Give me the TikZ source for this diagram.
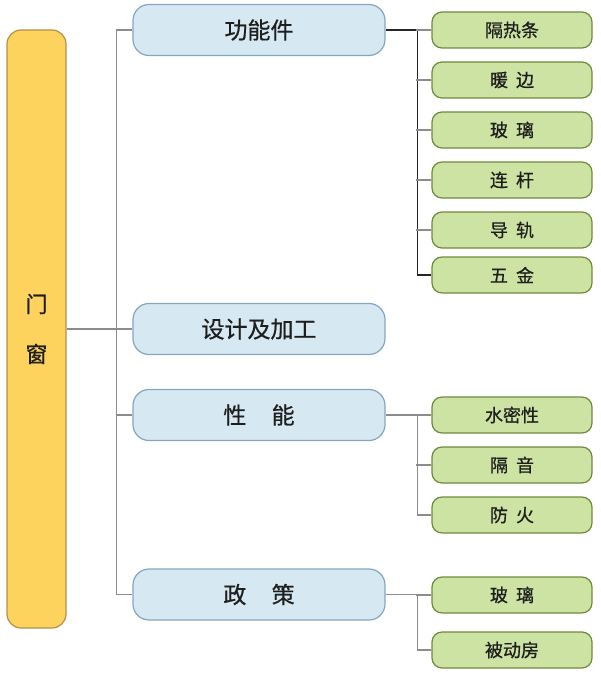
\documentclass[tikz,border=0pt]{standalone}
\usepackage{fontspec}
\setmainfont{Noto Sans CJK SC}[FakeBold=0.7]
\usepackage{xcolor}
\usepackage{tikz}
\usetikzlibrary{positioning}

\definecolor{rootfill}{HTML}{FDD35E}
\definecolor{rootline}{HTML}{B39048}
\definecolor{mainfill}{HTML}{D6E9F2}
\definecolor{mainline}{HTML}{86A6BE}
\definecolor{leaffill}{HTML}{CDE3A3}
\definecolor{leafline}{HTML}{6D8B3C}
\definecolor{linkgray}{HTML}{8C8C8C}
\definecolor{inkdark}{HTML}{1E1E1E}

\begin{document}
\begin{tikzpicture}[
    x=1pt, y=-1pt,
    rootbox/.style={draw=rootline, fill=rootfill, line width=1.2pt,
        rounded corners=14pt, minimum width=59pt, minimum height=598pt,
        inner sep=0pt, align=center, text=inkdark,
        font=\fontsize{22}{50}\selectfont},
    mainbox/.style={draw=mainline, fill=mainfill, line width=1.2pt,
        rounded corners=16pt, minimum width=252pt, minimum height=51pt,
        inner sep=0pt, text=inkdark, font=\fontsize{23}{23}\selectfont},
    leafbox/.style={draw=leafline, fill=leaffill, line width=1.2pt,
        rounded corners=10pt, minimum width=160pt, minimum height=36pt,
        inner sep=0pt, text=inkdark, font=\fontsize{18}{18}\selectfont},
    link/.style={draw=linkgray, line width=1.3pt},
    darklink/.style={draw=black!85, line width=1.3pt}
]

\useasboundingbox (0,0) rectangle (600,674);

% Root
\node[rootbox] (door) at (36.5,329) {门\\窗};

% First level
\node[mainbox] (func)   at (259,30)    {功能件};
\node[mainbox] (design) at (259,329)   {设计及加工};
\node[mainbox] (perf)   at (259,415)   {性\hspace{1.1em}能};
\node[mainbox] (policy) at (259,594.5) {政\hspace{1.1em}策};

% Parts
\node[leafbox] (strip)  at (512,30)  {隔热条};
\node[leafbox] (spacer) at (512,80)  {暖\hspace{0.45em}边};
\node[leafbox] (glass)  at (512,130) {玻\hspace{0.45em}璃};
\node[leafbox] (rod)    at (512,180) {连\hspace{0.45em}杆};
\node[leafbox] (rail)   at (512,230) {导\hspace{0.45em}轨};
\node[leafbox] (hard)   at (512,275) {五\hspace{0.45em}金};

% Performance
\node[leafbox] (seal)   at (512,415) {水密性};
\node[leafbox] (sound)  at (512,465) {隔\hspace{0.45em}音};
\node[leafbox] (fire)   at (512,515) {防\hspace{0.45em}火};

% Policy
\node[leafbox] (pglass)  at (512,595) {玻\hspace{0.45em}璃};
\node[leafbox] (passive) at (512,650) {被动房};

% Trunk
\draw[link] (door.east) -- (design.west);
\draw[link] (func.west) -- ++(-16,0) |- (policy.west);
\draw[link] (perf.west) -- ++(-16,0);

% Part branch
\draw[darklink] (func.east) -- ++(32,0) |- (hard.west);
\draw[link] (strip.west) -- ++(-15,0);
\draw[link] (spacer.west) -- ++(-15,0);
\draw[link] (glass.west) -- ++(-15,0);
\draw[link] (rod.west) -- ++(-15,0);
\draw[link] (rail.west) -- ++(-15,0);

% Performance branch
\draw[link] (perf.east) -- ++(32,0) |- (fire.west);
\draw[link] (seal.west) -- ++(-15,0);
\draw[link] (sound.west) -- ++(-15,0);

% Policy branch
\draw[link] (policy.east) -- ++(32,0) |- (passive.west);
\draw[link] (pglass.west) -- ++(-15,0);

\end{tikzpicture}
\end{document}
